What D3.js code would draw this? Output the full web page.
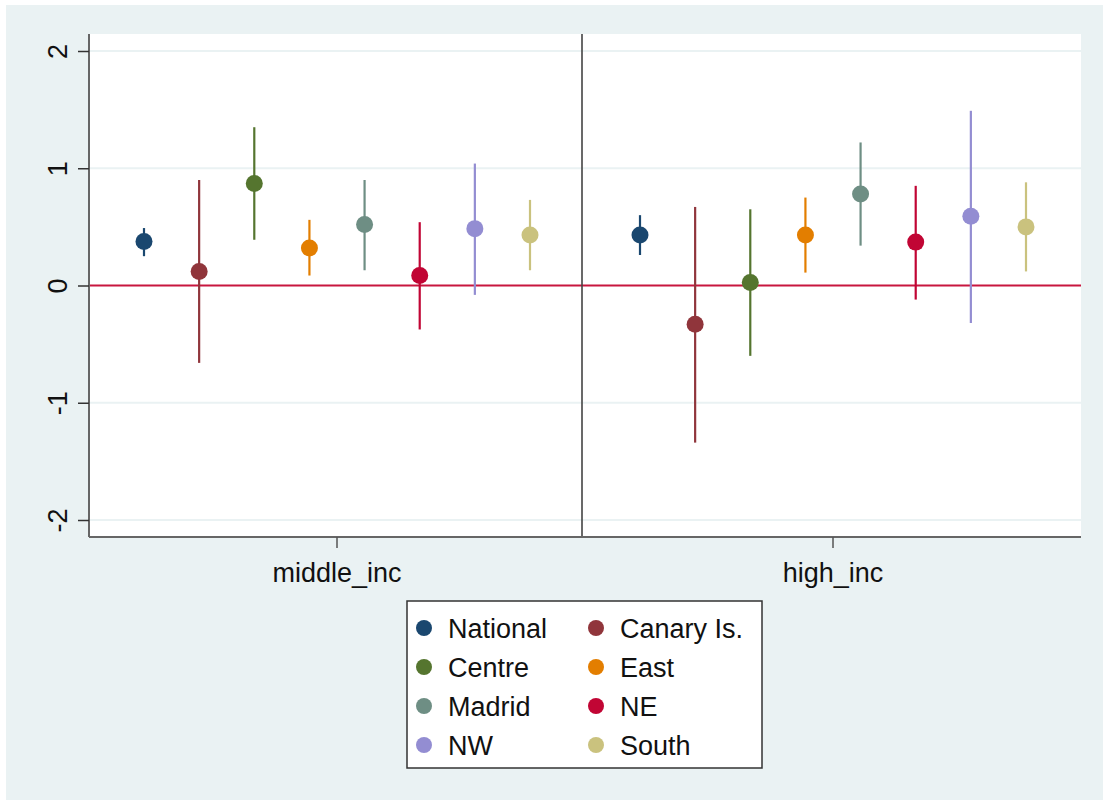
<!DOCTYPE html>
<html>
<head>
<meta charset="utf-8">
<script src="https://cdn.jsdelivr.net/npm/d3@7"></script>
<style>
  body { margin: 0; background: #fff; }
  svg text { font-family: Arial, "Liberation Sans", sans-serif; }
</style>
</head>
<body>
<svg id="chart" width="1103" height="800"></svg>
<script>
// groups along the x axis, one panel each
const groups = ['middle_inc', 'high_inc']
const regions = ['National', 'Canary Is.', 'Centre', 'East', 'Madrid', 'NE', 'NW', 'South']
const regionColors = ['#1a476f', '#90353b', '#55752f', '#e37e00', '#6e8e84', '#c10534', '#938dd2', '#cac27e']
const yTicks = [-2, -1, 0, 1, 2]

// point estimates and confidence bounds, [middle_inc, high_inc]
const estimates = [
    [0.375, 0.43],
    [0.12, -0.33],
    [0.87, 0.025],
    [0.32, 0.43],
    [0.52, 0.78],
    [0.085, 0.37],
    [0.485, 0.59],
    [0.43, 0.50]
]
const lower = [
    [0.25, 0.26],
    [-0.66, -1.34],
    [0.39, -0.60],
    [0.085, 0.11],
    [0.13, 0.34],
    [-0.375, -0.12],
    [-0.08, -0.32],
    [0.13, 0.12]
]
const upper = [
    [0.49, 0.60],
    [0.90, 0.67],
    [1.35, 0.65],
    [0.56, 0.75],
    [0.90, 1.22],
    [0.54, 0.85],
    [1.04, 1.49],
    [0.73, 0.88]
]

let svg = d3.select('#chart')
let W = +svg.attr('width'), H = +svg.attr('height')

// graph background
svg.append('rect').attr('x', 6).attr('y', 5).attr('width', W - 6).attr('height', H - 5).attr('fill', '#eaf2f3')

let plot = {left: 89, right: 1081, top: 34, bottom: 537}

svg.append('rect')
    .attr('x', plot.left).attr('y', plot.top)
    .attr('width', plot.right - plot.left).attr('height', plot.bottom - plot.top)
    .attr('fill', '#fff')

let y = d3.scaleLinear().domain([-2, 2]).range([520, 51])
let x = d3.scaleBand().domain(groups).range([plot.left, plot.right])
let inner = d3.scalePoint().domain(regions).range([-193, 193])

// gridlines
svg.append('g').selectAll('line')
    .data(yTicks.filter(d => d != 0))
    .enter().append('line')
        .attr('x1', plot.left).attr('x2', plot.right)
        .attr('y1', d => y(d)).attr('y2', d => y(d))
        .attr('stroke', '#eaf2f3').attr('stroke-width', 2)

// zero line
svg.append('line')
    .attr('x1', plot.left).attr('x2', plot.right)
    .attr('y1', y(0)).attr('y2', y(0))
    .attr('stroke', '#c8163f').attr('stroke-width', 2)

// panel divider
svg.append('line')
    .attr('x1', 582).attr('x2', 582)
    .attr('y1', plot.top).attr('y2', plot.bottom)
    .attr('stroke', '#444').attr('stroke-opacity', 0.8).attr('stroke-width', 2)

// y axis
let yAxis = svg.append('g')
    .attr('transform', 'translate(' + plot.left + ',0)')
    .call(d3.axisLeft(y).tickValues(yTicks).tickSize(11).tickPadding(10).tickFormat(d3.format('d')))
yAxis.select('.domain').attr('d', 'M0,' + plot.top + 'V' + plot.bottom).attr('stroke', '#666').attr('stroke-width', 2)
yAxis.selectAll('.tick line').attr('stroke', '#333').attr('stroke-width', 1.5)
yAxis.selectAll('.tick text')
    .attr('font-size', 27).attr('fill', '#111')
    .attr('text-anchor', 'middle').attr('dy', 0)
    .attr('transform', 'translate(-22,0) rotate(-90)')
    .attr('x', 0).attr('y', 0)
    .text(d => d < 0 ? '-' + Math.abs(d) : d)

// x axis
let xAxis = svg.append('g')
    .attr('transform', 'translate(0,' + plot.bottom + ')')
    .call(d3.axisBottom(x).tickSize(11).tickPadding(15))
xAxis.select('.domain').attr('d', 'M' + plot.left + ',0H' + plot.right).attr('stroke', '#666').attr('stroke-width', 2)
xAxis.selectAll('.tick line').attr('stroke', '#555').attr('stroke-width', 1.5)
xAxis.selectAll('.tick text').attr('font-size', 27).attr('fill', '#111')

// estimates
let marks = svg.append('g')
for(let i = 0; i < regions.length; i++){
    for(let j = 0; j < groups.length; j++){
        let cx = x(groups[j]) + x.bandwidth() / 2 + inner(regions[i])
        marks.append('line')
            .attr('x1', cx).attr('x2', cx)
            .attr('y1', y(lower[i][j])).attr('y2', y(upper[i][j]))
            .attr('stroke', regionColors[i]).attr('stroke-width', 2.2)
        marks.append('circle')
            .attr('cx', cx).attr('cy', y(estimates[i][j]))
            .attr('r', 8.5)
            .attr('fill', regionColors[i])
    }
}

// legend
let legend = svg.append('g').attr('transform', 'translate(407,601)')
legend.append('rect')
    .attr('width', 355).attr('height', 167)
    .attr('fill', '#fff').attr('stroke', '#333').attr('stroke-width', 1.5)

let items = legend.selectAll('g.item')
    .data(regions)
    .enter().append('g')
        .attr('class', 'item')
        .attr('transform', (d, i) => 'translate(' + (i % 2 == 0 ? 17 : 189) + ',' + (27 + Math.floor(i / 2) * 39) + ')')
items.append('circle').attr('r', 8).attr('fill', (d, i) => regionColors[i])
items.append('text')
    .attr('x', 24).attr('dy', '0.36em')
    .attr('font-size', 27).attr('fill', '#111')
    .text(d => d)
</script>
</body>
</html>
